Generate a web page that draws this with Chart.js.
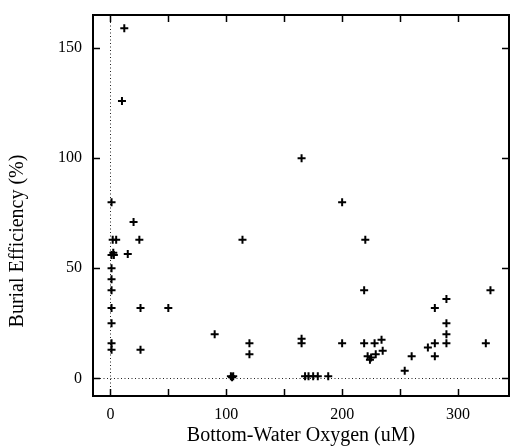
<!DOCTYPE html>
<html><head><meta charset="utf-8">
<script src="https://cdn.jsdelivr.net/npm/chart.js@4/dist/chart.umd.min.js"></script>
<style>html,body{margin:0;padding:0;background:#fff;}#wrap{width:510px;height:448px;position:relative;}</style>
</head><body><div id="wrap"><canvas id="c" width="510" height="448"></canvas></div>
<script>
// Bottom-water oxygen (uM) for each station
const oxygen = [
  1, 2, 5, 1, 2.5, 3, 1, 1, 1, 1, 1, 1, 1,
  12, 10, 20, 25, 15, 26, 50, 26, 90, 114, 120, 120, 104, 106, 105,
  165, 165, 165, 168, 171, 175, 179, 188,
  200, 200, 220, 219, 219, 228, 234, 222, 224, 225, 229, 235,
  254, 260, 274, 280, 280, 280, 290, 290, 290, 290, 324, 328
];
// Burial efficiency (%) for each station
const burialEfficiency = [
  80, 63, 63, 56, 57, 56, 50, 45, 40, 32, 25, 16, 13,
  159, 126, 71, 63, 56.5, 32, 32, 13, 20, 63, 16, 11, 1, 1, 0.5,
  100, 18, 16, 1, 1, 1, 1, 1,
  80, 16, 63, 40, 16, 16, 17.5, 10, 8.5, 9.5, 11, 12.5,
  3.5, 10, 14, 16, 10, 32, 36, 25, 20, 16, 16, 40
];
const xTickValues = [0, 50, 100, 150, 200, 250, 300];
const xTickLabels = ['0', '', '100', '', '200', '', '300'];
const yTickValues = [0, 50, 100, 150];
const yTickLabels = ['0', '50', '100', '150'];
const xTitle = 'Bottom-Water Oxygen (uM)';
const yTitle = 'Burial Efficiency (%)';
const referenceX = 0;
const referenceY = 0;
const serif = 'Liberation Serif';
function noPad(s) { s.paddingTop = 0; s.paddingBottom = 0; s.paddingLeft = 0; s.paddingRight = 0; }
const framePlugin = {
  id: 'frame',
  beforeDatasetsDraw(chart) {
    const {ctx, chartArea: a, scales: {x, y}} = chart;
    ctx.save();
    ctx.strokeStyle = '#222'; ctx.lineWidth = 1; ctx.setLineDash([1, 2.5]);
    const x0 = Math.round(x.getPixelForValue(referenceX)) + 0.5;
    const y0 = Math.round(y.getPixelForValue(referenceY)) + 0.5;
    ctx.beginPath();
    ctx.moveTo(x0, a.top); ctx.lineTo(x0, a.bottom);
    ctx.moveTo(a.left, y0); ctx.lineTo(a.right, y0);
    ctx.stroke(); ctx.setLineDash([]);
    ctx.strokeStyle = '#000'; ctx.lineWidth = 2;
    ctx.strokeRect(a.left, a.top, a.right - a.left, a.bottom - a.top);
    ctx.lineWidth = 1.5; ctx.beginPath();
    xTickValues.forEach(v => { const px = Math.round(x.getPixelForValue(v)) + 0.5;
      ctx.moveTo(px, a.bottom); ctx.lineTo(px, a.bottom - 7); ctx.moveTo(px, a.top); ctx.lineTo(px, a.top + 7); });
    yTickValues.forEach(v => { const py = Math.round(y.getPixelForValue(v)) + 0.5;
      ctx.moveTo(a.left, py); ctx.lineTo(a.left + 7, py); ctx.moveTo(a.right, py); ctx.lineTo(a.right - 7, py); });
    ctx.stroke(); ctx.restore();
  },
  afterDraw(chart) {
    const {ctx} = chart;
    ctx.save(); ctx.fillStyle = '#000'; ctx.font = '20px "' + serif + '"';
    ctx.textAlign = 'center'; ctx.textBaseline = 'middle';
    ctx.translate(18, 241); ctx.rotate(-Math.PI / 2); ctx.fillText(yTitle, 0, 0); ctx.restore();
  }
};
new Chart(document.getElementById('c'), {
  type: 'scatter',
  data: { datasets: [{ data: oxygen.map((v, i) => ({x: v, y: burialEfficiency[i]})),
      pointStyle: 'cross', radius: 4, borderWidth: 2, borderColor: '#000', backgroundColor: '#000' }] },
  options: {
    responsive: false, animation: false,
    layout: {autoPadding: false, padding: {top: 15, right: 1, left: 0, bottom: 0}},
    plugins: {legend: {display: false}, tooltip: {enabled: false}},
    scales: {
      x: { type: 'linear', min: -15, max: 344,
        afterBuildTicks: s => { s.ticks = xTickValues.map(v => ({value: v})); },
        afterFit: s => { s.height = 52; noPad(s); },
        border: {display: false}, grid: {drawOnChartArea: false, drawTicks: false},
        ticks: { padding: 9, color: '#000', font: {family: serif, size: 16},
          callback: v => xTickLabels[xTickValues.indexOf(v)] ?? '' },
        title: {display: true, text: xTitle, color: '#000', font: {family: serif, size: 20}, padding: {top: 0, bottom: 0}} },
      y: { type: 'linear', min: -8, max: 165,
        afterBuildTicks: s => { s.ticks = yTickValues.map(v => ({value: v})); },
        afterFit: s => { s.width = 93; noPad(s); },
        border: {display: false}, grid: {drawOnChartArea: false, drawTicks: false},
        ticks: { padding: 11, color: '#000', font: {family: serif, size: 16},
          callback: v => yTickLabels[yTickValues.indexOf(v)] ?? '' } }
    }
  },
  plugins: [framePlugin]
});
</script></body></html>
